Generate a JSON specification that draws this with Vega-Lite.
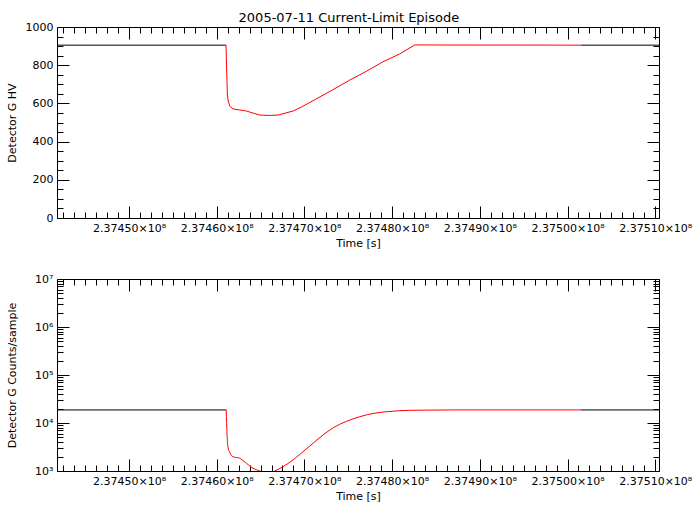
{
  "$schema": "https://vega.github.io/schema/vega-lite/v6.json",
  "autosize": {"type": "pad"},
  "padding": {"left": 6, "top": 12, "right": 8, "bottom": 4},
  "background": "white",
  "title": {"text": "2005-07-11 Current-Limit Episode", "anchor": "middle", "offset": -4, "fontSize": 13, "fontWeight": "normal", "font": "DejaVu Sans", "color": "black"},
  "config": {
    "view": {"stroke": null},
    "axis": {"labelFont": "DejaVu Sans", "labelFontSize": 11, "labelColor": "black", "titleFont": "DejaVu Sans", "titleFontSize": 11, "titleFontWeight": "normal", "titleColor": "black", "domainColor": "black", "tickColor": "black", "grid": false, "labelOverlap": false, "labelFlush": false, "labelBound": false}
  },
  "datasets": {
    "hv": [
      {"t": 237441790, "v": 905, "phase": "before"},
      {"t": 237461061, "v": 905, "phase": "before"},
      {"t": 237461061, "v": 905, "phase": "limit"},
      {"t": 237461118, "v": 800, "phase": "limit"},
      {"t": 237461220, "v": 644, "phase": "limit"},
      {"t": 237461289, "v": 618, "phase": "limit"},
      {"t": 237461483, "v": 586, "phase": "limit"},
      {"t": 237461859, "v": 571, "phase": "limit"},
      {"t": 237463387, "v": 560, "phase": "limit"},
      {"t": 237464904, "v": 539, "phase": "limit"},
      {"t": 237466000, "v": 537, "phase": "limit"},
      {"t": 237466990, "v": 539, "phase": "limit"},
      {"t": 237468701, "v": 560, "phase": "limit"},
      {"t": 237469659, "v": 581, "phase": "limit"},
      {"t": 237470982, "v": 614, "phase": "limit"},
      {"t": 237473262, "v": 672, "phase": "limit"},
      {"t": 237475166, "v": 722, "phase": "limit"},
      {"t": 237477071, "v": 768, "phase": "limit"},
      {"t": 237478964, "v": 818, "phase": "limit"},
      {"t": 237480868, "v": 859, "phase": "limit"},
      {"t": 237482578, "v": 906, "phase": "limit"},
      {"t": 237501507, "v": 905, "phase": "limit"},
      {"t": 237501507, "v": 905, "phase": "after"},
      {"t": 237510433, "v": 905, "phase": "after"}
    ],
    "counts": [
      {"t": 237441790, "v": 18700, "phase": "before"},
      {"t": 237461084, "v": 18700, "phase": "before"},
      {"t": 237461084, "v": 18700, "phase": "limit"},
      {"t": 237461175, "v": 6100, "phase": "limit"},
      {"t": 237461255, "v": 3480, "phase": "limit"},
      {"t": 237461483, "v": 2450, "phase": "limit"},
      {"t": 237461859, "v": 1990, "phase": "limit"},
      {"t": 237462623, "v": 1840, "phase": "limit"},
      {"t": 237463387, "v": 1450, "phase": "limit"},
      {"t": 237464140, "v": 1140, "phase": "limit"},
      {"t": 237464904, "v": 1000, "phase": "limit"},
      {"t": 237465702, "v": 880, "phase": "limit"},
      {"t": 237466614, "v": 1000, "phase": "limit"},
      {"t": 237467561, "v": 1230, "phase": "limit"},
      {"t": 237468701, "v": 1700, "phase": "limit"},
      {"t": 237469841, "v": 2520, "phase": "limit"},
      {"t": 237470982, "v": 3780, "phase": "limit"},
      {"t": 237472122, "v": 5620, "phase": "limit"},
      {"t": 237473262, "v": 7900, "phase": "limit"},
      {"t": 237474790, "v": 10800, "phase": "limit"},
      {"t": 237476307, "v": 13520, "phase": "limit"},
      {"t": 237477823, "v": 15800, "phase": "limit"},
      {"t": 237479351, "v": 17180, "phase": "limit"},
      {"t": 237480868, "v": 18030, "phase": "limit"},
      {"t": 237483148, "v": 18500, "phase": "limit"},
      {"t": 237487000, "v": 18700, "phase": "limit"},
      {"t": 237501507, "v": 18700, "phase": "limit"},
      {"t": 237501507, "v": 18700, "phase": "after"},
      {"t": 237510433, "v": 18700, "phase": "after"}
    ]
  },
  "vconcat": [
    {
      "width": 602,
      "height": 191,
      "layer": [
        {
          "data": {"name": "hv"},
          "transform": [{"filter": "datum.phase !== 'limit'"}],
          "mark": {"type": "line", "color": "black", "strokeWidth": 1, "clip": true},
          "encoding": {
            "detail": {"field": "phase"},
            "x": {"field": "t", "type": "quantitative", "scale": {"domain": [237441790, 237510433], "nice": false, "zero": false},
              "axis": {"orient": "bottom", "title": "Time [s]", "titlePadding": -2,
                "values": [237442500,237443750,237445000,237446250,237447500,237448750,237450000,237451250,237452500,237453750,237455000,237456250,237457500,237458750,237460000,237461250,237462500,237463750,237465000,237466250,237467500,237468750,237470000,237471250,237472500,237473750,237475000,237476250,237477500,237478750,237480000,237481250,237482500,237483750,237485000,237486250,237487500,237488750,237490000,237491250,237492500,237493750,237495000,237496250,237497500,237498750,237500000,237501250,237502500,237503750,237505000,237506250,237507500,237508750,237510000],
                "tickSize": {"condition": {"test": "datum.value % 10000 === 0", "value": -12}, "value": -6},
                "labelPadding": 16,
                "labelExpr": "datum.value % 10000 === 0 ? format(datum.value / 1e8, '.5f') + '×10⁸' : ''"}},
            "y": {"field": "v", "type": "quantitative", "scale": {"domain": [0, 1000], "nice": false},
              "axis": {"orient": "left", "title": "Detector G HV", "titlePadding": 8,
                "values": [0,50,100,150,200,250,300,350,400,450,500,550,600,650,700,750,800,850,900,950,1000],
                "tickSize": {"condition": {"test": "datum.value % 200 === 0", "value": -12}, "value": -6},
                "labelPadding": 16,
                "labelExpr": "datum.value % 200 === 0 ? datum.value + '' : ''"}}
          }
        },
        {
          "data": {"name": "hv"},
          "transform": [{"filter": "datum.phase === 'limit'"}],
          "mark": {"type": "line", "color": "#ff0000", "strokeWidth": 1, "clip": true},
          "encoding": {
            "x": {"field": "t", "type": "quantitative",
              "axis": {"orient": "top", "title": null, "labels": false,
                "values": [237442500,237443750,237445000,237446250,237447500,237448750,237450000,237451250,237452500,237453750,237455000,237456250,237457500,237458750,237460000,237461250,237462500,237463750,237465000,237466250,237467500,237468750,237470000,237471250,237472500,237473750,237475000,237476250,237477500,237478750,237480000,237481250,237482500,237483750,237485000,237486250,237487500,237488750,237490000,237491250,237492500,237493750,237495000,237496250,237497500,237498750,237500000,237501250,237502500,237503750,237505000,237506250,237507500,237508750,237510000],
                "tickSize": {"condition": {"test": "datum.value % 10000 === 0", "value": -12}, "value": -6}}},
            "y": {"field": "v", "type": "quantitative",
              "axis": {"orient": "right", "title": null, "labels": false,
                "values": [0,50,100,150,200,250,300,350,400,450,500,550,600,650,700,750,800,850,900,950,1000],
                "tickSize": {"condition": {"test": "datum.value % 200 === 0", "value": -12}, "value": -6}}}
          }
        }
      ],
      "resolve": {"axis": {"x": "independent", "y": "independent"}}
    },
    {
      "width": 602,
      "height": 192,
      "layer": [
        {
          "data": {"name": "counts"},
          "transform": [{"filter": "datum.phase !== 'limit'"}],
          "mark": {"type": "line", "color": "black", "strokeWidth": 1, "clip": true},
          "encoding": {
            "detail": {"field": "phase"},
            "x": {"field": "t", "type": "quantitative", "scale": {"domain": [237441790, 237510433], "nice": false, "zero": false},
              "axis": {"orient": "bottom", "title": "Time [s]", "titlePadding": -2,
                "values": [237442500,237443750,237445000,237446250,237447500,237448750,237450000,237451250,237452500,237453750,237455000,237456250,237457500,237458750,237460000,237461250,237462500,237463750,237465000,237466250,237467500,237468750,237470000,237471250,237472500,237473750,237475000,237476250,237477500,237478750,237480000,237481250,237482500,237483750,237485000,237486250,237487500,237488750,237490000,237491250,237492500,237493750,237495000,237496250,237497500,237498750,237500000,237501250,237502500,237503750,237505000,237506250,237507500,237508750,237510000],
                "tickSize": {"condition": {"test": "datum.value % 10000 === 0", "value": -12}, "value": -6},
                "labelPadding": 16,
                "labelExpr": "datum.value % 10000 === 0 ? format(datum.value / 1e8, '.5f') + '×10⁸' : ''"}},
            "y": {"field": "v", "type": "quantitative", "scale": {"type": "log", "domain": [1000, 10000000], "nice": false},
              "axis": {"orient": "left", "title": "Detector G Counts/sample", "titlePadding": 17,
                "values": [1000,2000,3000,4000,5000,6000,7000,8000,9000,10000,20000,30000,40000,50000,60000,70000,80000,90000,100000,200000,300000,400000,500000,600000,700000,800000,900000,1000000,2000000,3000000,4000000,5000000,6000000,7000000,8000000,9000000,10000000],
                "tickSize": {"condition": {"test": "abs(log(datum.value)/LN10 - round(log(datum.value)/LN10)) < 0.000001", "value": -12}, "value": -6},
                "labelPadding": 16,
                "labelExpr": "abs(log(datum.value)/LN10 - round(log(datum.value)/LN10)) < 0.000001 ? '10' + ['⁰','¹','²','³','⁴','⁵','⁶','⁷'][round(log(datum.value)/LN10)] : ''"}}
          }
        },
        {
          "data": {"name": "counts"},
          "transform": [{"filter": "datum.phase === 'limit'"}],
          "mark": {"type": "line", "color": "#ff0000", "strokeWidth": 1, "clip": true, "interpolate": "monotone"},
          "encoding": {
            "x": {"field": "t", "type": "quantitative",
              "axis": {"orient": "top", "title": null, "labels": false,
                "values": [237442500,237443750,237445000,237446250,237447500,237448750,237450000,237451250,237452500,237453750,237455000,237456250,237457500,237458750,237460000,237461250,237462500,237463750,237465000,237466250,237467500,237468750,237470000,237471250,237472500,237473750,237475000,237476250,237477500,237478750,237480000,237481250,237482500,237483750,237485000,237486250,237487500,237488750,237490000,237491250,237492500,237493750,237495000,237496250,237497500,237498750,237500000,237501250,237502500,237503750,237505000,237506250,237507500,237508750,237510000],
                "tickSize": {"condition": {"test": "datum.value % 10000 === 0", "value": -12}, "value": -6}}},
            "y": {"field": "v", "type": "quantitative",
              "axis": {"orient": "right", "title": null, "labels": false,
                "values": [1000,2000,3000,4000,5000,6000,7000,8000,9000,10000,20000,30000,40000,50000,60000,70000,80000,90000,100000,200000,300000,400000,500000,600000,700000,800000,900000,1000000,2000000,3000000,4000000,5000000,6000000,7000000,8000000,9000000,10000000],
                "tickSize": {"condition": {"test": "abs(log(datum.value)/LN10 - round(log(datum.value)/LN10)) < 0.000001", "value": -12}, "value": -6}}}
          }
        }
      ],
      "resolve": {"axis": {"x": "independent", "y": "independent"}}
    }
  ],
  "spacing": 61,
  "bounds": "flush"
}
